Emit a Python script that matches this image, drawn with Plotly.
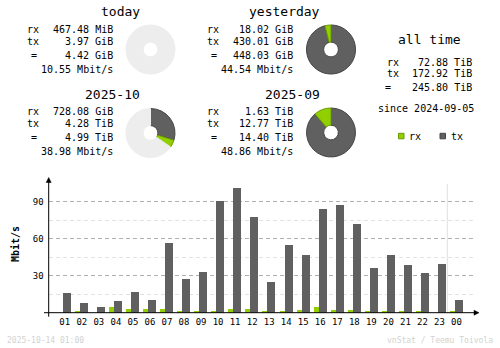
import plotly.graph_objects as go

W, H = 500, 348

# ---------------- data ----------------
hours = ["01", "02", "03", "04", "05", "06", "07", "08", "09", "10", "11", "12",
         "13", "14", "15", "16", "17", "18", "19", "20", "21", "22", "23", "00"]
rx_mbit = [0.0, 0.8, 0.0, 4.9, 3.0, 3.0, 3.0, 0.8, 0.8, 1.6, 3.0, 3.0,
           0.8, 1.6, 2.4, 4.9, 2.4, 2.4, 0.8, 0.8, 0.8, 1.6, 0.0, 0.8]
tx_mbit = [15.7, 7.6, 4.6, 9.2, 16.5, 10.0, 56.5, 27.0, 32.7, 90.5, 100.8, 77.6,
           24.9, 54.9, 46.8, 84.1, 87.3, 71.9, 36.2, 46.8, 38.6, 32.2, 39.5, 10.3]
y_ticks = [30, 60, 90]
y_minor = [15, 45, 75]

# summary blocks (rx, tx in GiB for days, TiB for months)
today_rx, today_tx = 467.48 / 1024, 3.97
yest_rx, yest_tx = 18.02, 430.01
m10_rx, m10_tx = 728.08 / 1024, 4.28
m09_rx, m09_tx = 1.63, 12.77

blocks = [
    # title, rx text, tx text, total text, rate text, label-left x, title y
    ("today", "467.48 MiB", "3.97 GiB", "4.42 GiB", "10.55 Mbit/s", 25, 11.7),
    ("yesterday", "18.02 GiB", "430.01 GiB", "448.03 GiB", "44.54 Mbit/s", 205, 11.7),
    ("2025-10", "728.08 GiB", "4.28 TiB", "4.99 TiB", "38.98 Mbit/s", 25, 94.3),
    ("2025-09", "1.63 TiB", "12.77 TiB", "14.40 TiB", "48.86 Mbit/s", 205, 94.3),
]
alltime = ("72.88 TiB", "172.92 TiB", "245.80 TiB")
since = "since 2024-09-05"
stamp = "2025-10-14 01:00"
credit = "vnStat / Teemu Toivola"

RX_C = "#92cf00"
TX_C = "#606060"
RX_D = "#6a9a00"
TX_D = "#454545"
PIE_BG = "#ededed"


def px(x):
    return x / W


def py(y):
    return 1 - y / H


fig = go.Figure()

# ---------------- bar chart ----------------
idx = list(range(len(hours)))
fig.add_trace(go.Bar(x=idx, y=rx_mbit, offset=-0.41, width=0.293,
                     marker=dict(color=RX_C, line=dict(width=0)),
                     showlegend=False, hoverinfo="skip"))
fig.add_trace(go.Bar(x=idx, y=tx_mbit, offset=-0.117, width=0.47,
                     marker=dict(color=TX_C, line=dict(width=0)),
                     showlegend=False, hoverinfo="skip"))


# ---------------- donuts ----------------
def donut(rx, tx, base):
    pct = (rx + tx) / base * 100
    if int(pct) == 0:
        return [base], [PIE_BG], [PIE_BG]
    vals = [tx, rx]
    cols = [TX_C, RX_C]
    lines = [TX_D, RX_D]
    rest = base - rx - tx
    if rest > 1e-9:
        vals.append(rest)
        cols.append(PIE_BG)
        lines.append(PIE_BG)
    return vals, cols, lines


day_base = max(today_rx + today_tx, yest_rx + yest_tx)
mon_base = max(m10_rx + m10_tx, m09_rx + m09_tx)
pies = [
    (today_rx, today_tx, day_base, 150.5, 49.5),
    (yest_rx, yest_tx, day_base, 331.0, 49.5),
    (m10_rx, m10_tx, mon_base, 150.5, 133.0),
    (m09_rx, m09_tx, mon_base, 331.0, 132.5),
]
R = 24.5
for rx, tx, base, cx, cy in pies:
    vals, cols, lines = donut(rx, tx, base)
    fig.add_trace(go.Pie(
        values=vals, sort=False, direction="clockwise", rotation=0,
        hole=0.3, textinfo="none", hoverinfo="skip", showlegend=False,
        marker=dict(colors=cols, line=dict(color=lines, width=1)),
        domain=dict(x=[px(cx - R), px(cx + R)], y=[py(cy + R), py(cy - R)]),
    ))

# ---------------- layout ----------------
MONO = "DejaVu Sans Mono"
annotations = []


def txt(x, y, s, size=10, anchor="left", color="#000000", angle=0):
    annotations.append(dict(
        x=px(x), y=py(y), xref="paper", yref="paper", text=s, showarrow=False,
        xanchor=anchor, yanchor="middle", textangle=angle,
        font=dict(family=MONO, size=size, color=color)))


for title, rxs, txs, tots, rate, lx, ty in blocks:
    vr = lx + 90
    txt(lx + 116.7, ty, title, size=13, anchor="right")
    txt(lx, ty + 17.6, "rx")
    txt(vr, ty + 17.6, rxs, anchor="right")
    txt(lx, ty + 29.3, "tx")
    txt(vr, ty + 29.3, txs, anchor="right")
    txt(lx + 9, ty + 43.3, "=", anchor="center")
    txt(vr, ty + 43.3, tots, anchor="right")
    txt(vr, ty + 57.3, rate, anchor="right")

# all time block
txt(429, 39.3, "all time", size=13, anchor="center")
txt(385, 62.3, "rx")
txt(474, 62.3, alltime[0], anchor="right")
txt(385, 73.7, "tx")
txt(474, 73.7, alltime[1], anchor="right")
txt(388.3, 87.7, "=", anchor="center")
txt(474, 87.7, alltime[2], anchor="right")
txt(426, 108.3, since, anchor="center")
txt(406.5, 136, "rx")
txt(448.5, 136, "tx")

# axis title & footer
txt(15, 244, "<b>Mbit/s</b>", size=10, anchor="center", angle=-90)
txt(5, 340, stamp, size=8, color="#d2d2d2")
txt(495, 340, credit, size=8, anchor="right", color="#d2d2d2")

shapes = [
    # separator line (current hour)
    dict(type="line", xref="paper", yref="paper", x0=px(447.3), x1=px(447.3),
         y0=py(184), y1=py(312.7), line=dict(color="#e0e0e0", width=1), layer="below"),
    # y axis
    dict(type="line", xref="paper", yref="paper", x0=px(48.7), x1=px(48.7),
         y0=py(180), y1=py(316.7), line=dict(color="#000000", width=1)),
    # x axis
    dict(type="line", xref="paper", yref="paper", x0=px(44), x1=px(476),
         y0=py(312.7), y1=py(312.7), line=dict(color="#000000", width=1)),
    # arrow heads
    dict(type="path", xref="paper", yref="paper",
         path=f"M {px(46.2)} {py(182.5)} L {px(51.2)} {py(182.5)} L {px(48.7)} {py(177.5)} Z",
         fillcolor="#000000", line=dict(color="#000000", width=0.5)),
    dict(type="path", xref="paper", yref="paper",
         path=f"M {px(474)} {py(310.2)} L {px(474)} {py(315.2)} L {px(479)} {py(312.7)} Z",
         fillcolor="#000000", line=dict(color="#000000", width=0.5)),
    # legend squares
    dict(type="rect", xref="paper", yref="paper", x0=px(398.5), x1=px(404), y0=py(138.8), y1=py(133.3),
         fillcolor=RX_C, line=dict(color=RX_D, width=1)),
    dict(type="rect", xref="paper", yref="paper", x0=px(440), x1=px(445.5), y0=py(138.8), y1=py(133.3),
         fillcolor=TX_C, line=dict(color=TX_D, width=1)),
]

fig.update_layout(
    width=W, height=H, margin=dict(l=0, r=0, t=0, b=0),
    paper_bgcolor="#ffffff", plot_bgcolor="rgba(0,0,0,0)",
    barmode="overlay", bargap=0,
    annotations=annotations, shapes=shapes,
    xaxis=dict(domain=[px(48.7), px(472.7)], range=[-0.945, 23.95],
               tickvals=idx, ticktext=hours, showgrid=False, zeroline=False,
               showline=False, ticks="", ticklabelstandoff=2,
               tickfont=dict(family=MONO, size=9, color="#000000"), fixedrange=True),
    yaxis=dict(domain=[py(312.7), py(180)], range=[0, 107.6],
               tickvals=y_ticks, showgrid=True, gridcolor="#b0b0b0",
               griddash="4px,3px", gridwidth=1, zeroline=False, showline=False,
               ticks="", ticklabelstandoff=4,
               tickfont=dict(family=MONO, size=9, color="#000000"),
               minor=dict(tickvals=y_minor, showgrid=True, gridcolor="#e2e2e2",
                          griddash="4px,3px", gridwidth=1, ticks=""),
               fixedrange=True),
)

fig.write_html("out.html", config={"displayModeBar": False})
